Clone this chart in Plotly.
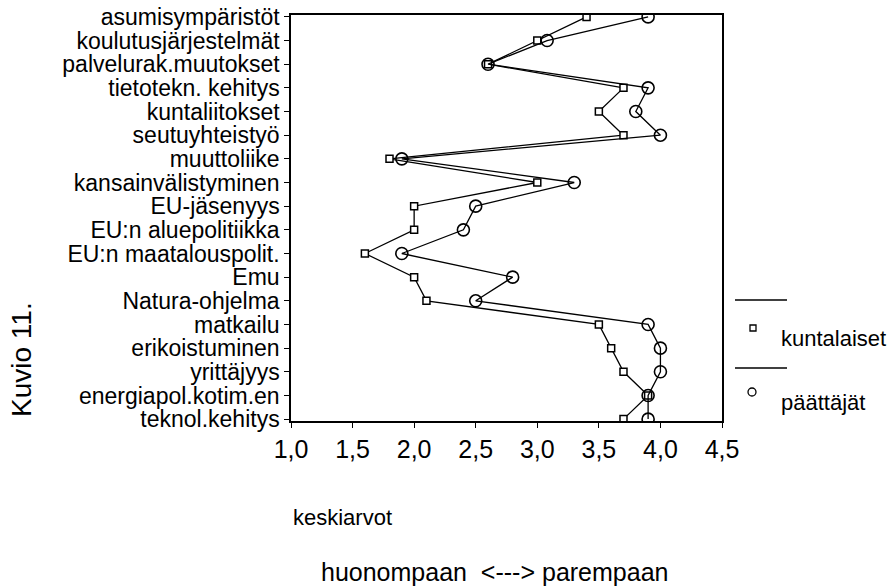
import plotly.graph_objects as go

# Aihealueet (ylhäältä alas)
categories = [
    "asumisympäristöt", "koulutusjärjestelmät", "palvelurak.muutokset",
    "tietotekn. kehitys", "kuntaliitokset", "seutuyhteistyö", "muuttoliike",
    "kansainvälistyminen", "EU-jäsenyys", "EU:n aluepolitiikka",
    "EU:n maatalouspolit.", "Emu", "Natura-ohjelma", "matkailu",
    "erikoistuminen", "yrittäjyys", "energiapol.kotim.en", "teknol.kehitys",
]
kuntalaiset = [3.4, 3.0, 2.6, 3.7, 3.5, 3.7, 1.8, 3.0, 2.0, 2.0, 1.6, 2.0, 2.1, 3.5, 3.6, 3.7, 3.9, 3.7]
paattajat = [3.9, 3.08, 2.6, 3.9, 3.8, 4.0, 1.9, 3.3, 2.5, 2.4, 1.9, 2.8, 2.5, 3.9, 4.0, 4.0, 3.9, 3.9]
x_ticks = [1.0, 1.5, 2.0, 2.5, 3.0, 3.5, 4.0, 4.5]
x_ticktext = ["1,0", "1,5", "2,0", "2,5", "3,0", "3,5", "4,0", "4,5"]

W, H = 894, 587
# piirtoalue ikkunan pikseleinä
L, R, T, B = 291, 722, 15, 421
FONT = "Liberation Sans, Arial, sans-serif"


def px(x):
    return (x - L) / (R - L)


def py(y):
    return (B - y) / (B - T)


fig = go.Figure()
fig.add_trace(go.Scatter(
    x=kuntalaiset, y=categories, mode="lines+markers", name="kuntalaiset",
    line=dict(color="black", width=1.3),
    marker=dict(symbol="square", size=7, color="white", line=dict(color="black", width=1.5)),
))
fig.add_trace(go.Scatter(
    x=paattajat, y=categories, mode="lines+markers", name="päättäjät",
    line=dict(color="black", width=1.3),
    marker=dict(symbol="circle", size=12, color="rgba(255,255,255,0)", line=dict(color="black", width=1.6)),
))

fig.update_layout(
    width=W, height=H, showlegend=False,
    plot_bgcolor="white", paper_bgcolor="white",
    margin=dict(l=L, r=W - R, t=T, b=H - B),
    font=dict(family=FONT, color="black"),
)
fig.update_xaxes(
    range=[1, 4.5], tickmode="array", tickvals=x_ticks, ticktext=x_ticktext,
    tickfont=dict(size=25), ticks="outside", ticklen=5, tickcolor="black",
    showline=True, linecolor="black", linewidth=1.5, mirror=True,
    showgrid=False, zeroline=False, automargin=False,
)
fig.update_yaxes(
    type="category", categoryorder="array", categoryarray=categories,
    tickmode="array", tickvals=categories, ticktext=categories,
    range=[17.08, -0.08],
    tickfont=dict(size=23), ticks="outside", ticklen=5, tickcolor="black",
    showline=True, linecolor="black", linewidth=1.5, mirror=True,
    showgrid=False, zeroline=False, automargin=False,
)

# Selite (SPSS-tyyli: viiva yllä, merkki alla)
for ly, my, sym, sz, txt in [(300, 328, "square", 6, "kuntalaiset"), (368, 392, "circle", 8, "päättäjät")]:
    fig.add_shape(type="line", xref="paper", yref="paper",
                  x0=px(735), x1=px(787), y0=py(ly), y1=py(ly),
                  line=dict(color="black", width=1.5))
    if sym == "square":
        fig.add_shape(type="rect", xref="paper", yref="paper",
                      x0=px(753 - sz / 2), x1=px(753 + sz / 2), y0=py(my - sz / 2), y1=py(my + sz / 2),
                      line=dict(color="black", width=1.3))
    else:
        fig.add_shape(type="circle", xref="paper", yref="paper",
                      x0=px(752 - sz / 2), x1=px(752 + sz / 2), y0=py(my - sz / 2), y1=py(my + sz / 2),
                      line=dict(color="black", width=1.3))
    fig.add_annotation(text=txt, xref="paper", yref="paper", x=px(779), y=py(my + 10),
                       xanchor="left", yanchor="middle", showarrow=False,
                       font=dict(size=22))

fig.add_annotation(text="keskiarvot", xref="paper", yref="paper", x=px(291), y=py(517),
                   xanchor="left", yanchor="middle", showarrow=False, font=dict(size=22))
fig.add_annotation(text="huonompaan  &lt;---&gt; parempaan", xref="paper", yref="paper",
                   x=px(319), y=py(572), xanchor="left", yanchor="middle", showarrow=False,
                   font=dict(size=25))
fig.add_annotation(text="Kuvio 11.", xref="paper", yref="paper", x=px(21), y=py(360),
                   xanchor="center", yanchor="middle", textangle=-90, showarrow=False,
                   font=dict(size=28))

# sivun oletusmarginaali pois, jotta kuva alkaa ikkunan kulmasta
fig.write_html("out.html", config={"displayModeBar": False},
               post_script="document.body.style.margin='0';document.body.style.overflow='hidden';")
